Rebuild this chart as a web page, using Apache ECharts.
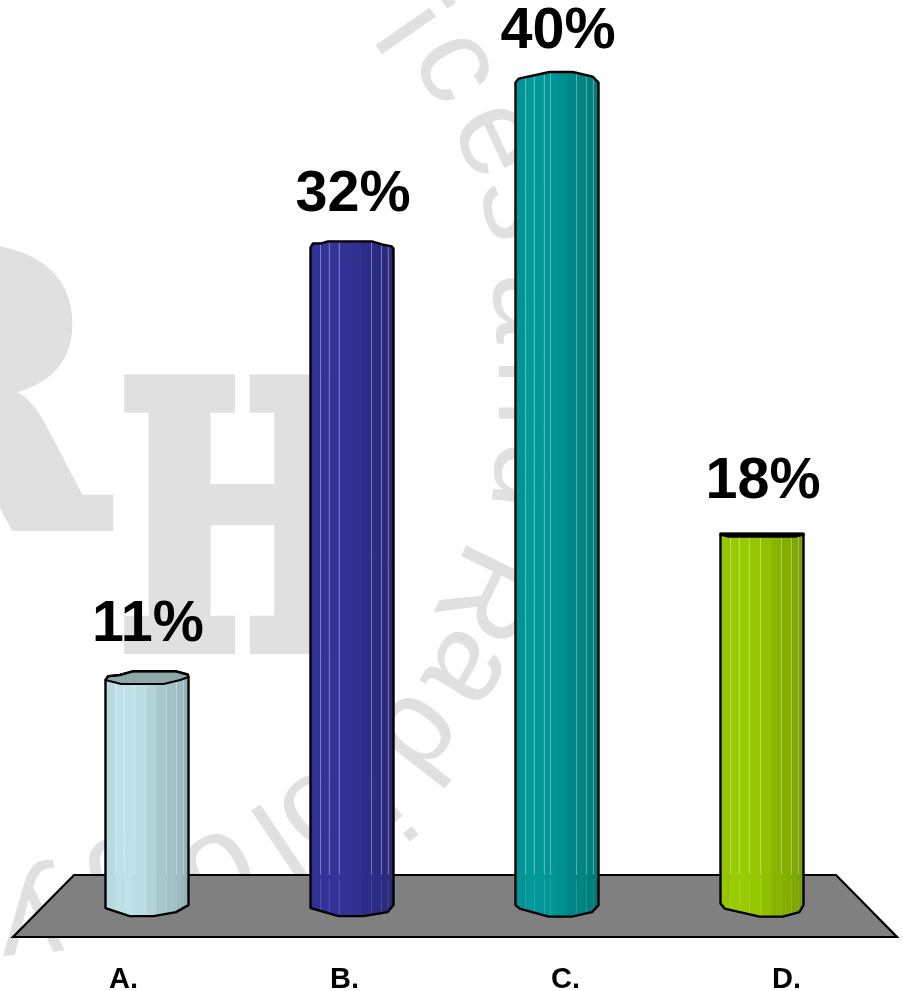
<!DOCTYPE html>
<html>
<head>
<meta charset="utf-8">
<style>html,body{margin:0;padding:0;background:#fff}#chart{width:903px;height:991px}</style>
<script src="https://cdn.jsdelivr.net/npm/echarts@6/dist/echarts.min.js"></script>
</head>
<body>
<div id="chart"></div>
<script>
// Answer shares per option
const categories = ['A.', 'B.', 'C.', 'D.'];
const percentages = [11, 32, 40, 18];

// Faceted-cylinder appearance for each option; profiles are [fraction of width, pixel offset]
const liftOfLabel = [25.5, 23.5, 21, 24.5];
const bodyColors = ['#bde1e7', '#333399', '#009999', '#99cc00'];
const capColors = ['#8fa9ab', null, null, '#000000'];
const frontEdges = [
  [[0, 0], [.19, 4], [.7, 4], [.9, 0], [1, -3]],
  [[0, 0], [.03, -4], [.13, -4], [.21, -6], [.74, -6], [.86, -3], [.98, -1], [1, 1]],
  [[0, 0], [.04, -4], [.41, -10.6], [.69, -10.6], [.93, -6], [1, 0]],
  [[0, -1], [.1, 1], [.9, 1], [1, -1]]
];
const backEdges = [
  [[0, 0], [.03, -3.7], [.17, -5], [.33, -8.7], [.85, -8.7], [.99, -5.5], [1, -3]],
  null,
  null,
  [[0, -2], [1, -2]]
];
const footEdges = [
  [[0, 1.5], [.29, 9.5], [.58, 9.5], [.85, 5.5], [1, -1.5]],
  [[0, 1.5], [.34, 9.5], [.64, 9.5], [.93, 5.5], [1, -1.5]],
  [[0, -1.5], [.05, 2], [.4, 10], [.68, 10], [.92, 5.5], [1, -1.5]],
  [[0, -3], [.05, 2], [.47, 10], [.75, 10], [.95, 5.5], [1, -1.5]]
];
const facetStops = [0, .12, .22, .34, .5, .62, .73, .85, .93, 1];
const facetTones = [.97, 1, 1, .98, .94, .89, .86, .83, .79];
const ribStops = [.12, .22, .34, .73, .85, .93];
const extraRibs = [[], [], [.41], [.47]];

const floorTop = 875;
const floorInset = 61;

// Background stamp: each letter with centre x, centre y and rotation in degrees
const stampGlyphs = [
  ['v', 385, -18, 50], ['i', 407, 30, 55], ['c', 440, 75, 62], ['e', 480, 147, 65],
  ['s', 503, 212, 76], ['a', 512, 308, 86], ['n', 516, 392, 90], ['d', 512, 475, 96],
  ['R', 482, 592, 116], ['a', 453, 660, 122], ['d', 403, 723, 128], ['i', 378, 795, 140],
  ['o', 307, 797, 140], ['l', 275, 836, 146], ['o', 210, 855, 150], ['g', 120, 880, 165],
  ['y', 30, 905, 175]
];
const tallLetters = 'ilR';

function profileAt(profile, f) {
  for (let i = 1; i < profile.length; i++) {
    if (f <= profile[i][0]) {
      const [a, ya] = profile[i - 1];
      const [b, yb] = profile[i];
      return ya + (yb - ya) * (f - a) / (b - a);
    }
  }
  return profile[profile.length - 1][1];
}

function shade(hex, k) {
  const n = parseInt(hex.slice(1), 16);
  const c = [n >> 16, (n >> 8) & 255, n & 255].map(v => Math.round(v * k));
  return `rgb(${c[0]},${c[1]},${c[2]})`;
}

function renderFloor(params, api) {
  const box = params.coordSys;
  const left = box.x, right = box.x + box.width, top = box.y, bottom = box.y + box.height;
  return {
    type: 'polygon',
    shape: { points: [[left, bottom], [right, bottom], [right - floorInset, top], [left + floorInset, top]] },
    style: { fill: '#808080', stroke: '#000', lineWidth: 2.2 }
  };
}

function renderBar(params, api) {
  const i = api.value(0);
  const value = api.value(1);
  const [cx, topY] = api.coord([i, value]);
  const [, baseY] = api.coord([i, 0]);
  const width = api.size([1, 0])[0] * 0.405;
  const left = cx - width / 2;
  const X = f => left + f * width;
  const front = frontEdges[i], foot = footEdges[i], back = backEdges[i];
  const color = bodyColors[i];
  const children = [];

  // Sides of the cylinder, one polygon per facet
  facetTones.forEach((tone, k) => {
    const a = facetStops[k], b = facetStops[k + 1];
    const fs = [a];
    [...front, ...foot].forEach(p => { if (p[0] > a && p[0] < b) fs.push(p[0]); });
    fs.push(b);
    fs.sort((m, n) => m - n);
    const upper = fs.map(f => [X(f), topY + profileAt(front, f)]);
    const lower = fs.slice().reverse().map(f => [X(f), baseY + profileAt(foot, f)]);
    children.push({
      type: 'polygon',
      shape: { points: upper.concat(lower) },
      style: { fill: shade(color, tone), stroke: shade(color, tone), lineWidth: .5 }
    });
  });

  // Pale ribs between the facets, faint where they pass over the floor
  ribStops.concat(extraRibs[i]).forEach(f => {
    const x = Math.round(X(f)) + .5;
    children.push({
      type: 'line',
      shape: { x1: x, y1: topY + profileAt(front, f) + 1, x2: x, y2: floorTop },
      style: { stroke: 'rgba(255,255,255,.34)', lineWidth: 1 }
    });
    children.push({
      type: 'line',
      shape: { x1: x, y1: floorTop + 4, x2: x, y2: baseY + profileAt(foot, f) },
      style: { stroke: 'rgba(255,255,255,.14)', lineWidth: 1 }
    });
  });

  // Visible top face
  const edgePath = front.map(p => [X(p[0]), topY + p[1]]);
  if (back) {
    children.push({
      type: 'polygon',
      shape: { points: edgePath.concat(back.slice().reverse().map(p => [X(p[0]), topY + p[1]])) },
      style: { fill: capColors[i], stroke: '#000', lineWidth: 2, lineJoin: 'round' }
    });
  }

  // Silhouette
  const footPath = foot.slice().reverse().map(p => [X(p[0]), baseY + p[1]]);
  const upperPath = back ? back.map(p => [X(p[0]), topY + p[1]]) : edgePath;
  children.push({
    type: 'polygon',
    shape: { points: upperPath.concat(footPath) },
    style: { fill: 'none', stroke: '#000', lineWidth: 2.4, lineJoin: 'round' }
  });

  children.push({
    type: 'text',
    style: {
      text: value + '%', x: cx + 1, y: topY - liftOfLabel[i],
      font: 'bold 57.5px "Liberation Sans", Arial, sans-serif',
      fill: '#000', textAlign: 'center', textVerticalAlign: 'bottom'
    }
  });
  return { type: 'group', children };
}

const stampColor = '#e0e0e0';
const stampElements = stampGlyphs.map(([ch, x, y, deg]) => {
  const rad = deg * Math.PI / 180;
  const lift = tallLetters.includes(ch) ? 0 : 17;
  return {
    type: 'text', x: x + Math.sin(rad) * lift, y: y - Math.cos(rad) * lift, rotation: -rad, z: 0, silent: true,
    style: { text: ch, font: '125px "Liberation Sans", sans-serif', fill: stampColor, textAlign: 'center', textVerticalAlign: 'middle' }
  };
});
stampElements.push({
  type: 'text', x: 118, y: 732, scaleX: .73, z: 0, silent: true,
  style: { text: 'H', font: 'bold 360px "DejaVu Serif", serif', fill: stampColor, stroke: stampColor, lineWidth: 17, textAlign: 'left', textVerticalAlign: 'bottom' }
});
stampElements.push({
  type: 'text', x: 104, y: 614, z: 0, silent: true,
  style: { text: 'R', font: 'bold 375px "DejaVu Serif", serif', fill: stampColor, stroke: stampColor, lineWidth: 14, textAlign: 'right', textVerticalAlign: 'bottom' }
});

const chart = echarts.init(document.getElementById('chart'), null, { renderer: 'canvas' });
chart.setOption({
  animation: false,
  backgroundColor: '#fff',
  graphic: { elements: stampElements },
  grid: [
    { left: 13, width: 884, top: floorTop, height: 62, outerBoundsMode: 'none' },
    { left: 44.5, width: 820, top: 0.2, height: 906.4, outerBoundsMode: 'none' }
  ],
  xAxis: [
    {
      gridIndex: 0, type: 'category', data: categories,
      axisLine: { show: false }, axisTick: { show: false }, splitLine: { show: false },
      axisLabel: { margin: 28, color: '#000', fontSize: 29, fontWeight: 'bold', fontFamily: '"Liberation Sans", Arial, sans-serif' }
    },
    { gridIndex: 1, type: 'category', data: categories, show: false }
  ],
  yAxis: [
    { gridIndex: 0, type: 'value', min: 0, max: 1, show: false },
    { gridIndex: 1, type: 'value', min: 0, max: 44, show: false }
  ],
  series: [
    {
      type: 'custom', xAxisIndex: 0, yAxisIndex: 0, z: 1, silent: true,
      renderItem: renderFloor, data: [[0, 0]]
    },
    {
      type: 'custom', xAxisIndex: 1, yAxisIndex: 1, z: 2, silent: true,
      renderItem: renderBar, encode: { x: 0, y: 1 },
      data: percentages.map((v, i) => [i, v])
    }
  ]
});
</script>
</body>
</html>
